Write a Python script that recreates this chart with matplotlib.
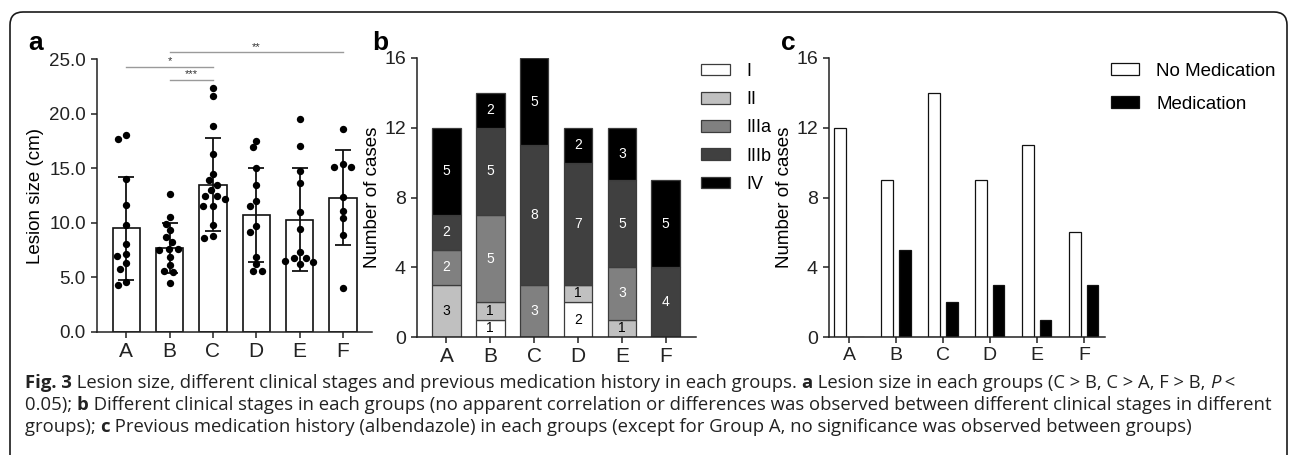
import numpy as np
import matplotlib
matplotlib.use("Agg")
import matplotlib.pyplot as plt
from matplotlib.patches import FancyBboxPatch
from matplotlib.transforms import IdentityTransform

# ---------------- data ----------------
groups = ["A", "B", "C", "D", "E", "F"]

lesion_A = [18.0, 17.7, 14.0, 11.6, 9.8, 8.1, 7.0, 7.1, 6.3, 5.8, 4.3, 4.6]
lesion_B = [12.6, 10.5, 9.9, 9.3, 8.7, 8.2, 7.6, 7.6, 7.5, 6.9, 6.1, 5.6, 5.5, 4.5]
lesion_C = [22.3, 21.6, 18.9, 16.3, 14.5, 13.9, 13.5, 13.0, 12.5, 12.5, 12.2,
            11.5, 11.5, 9.8, 8.8, 8.6]
lesion_D = [17.5, 16.9, 15.0, 13.5, 12.0, 11.5, 9.7, 9.2, 6.9, 6.2, 5.6, 5.6]
lesion_E = [19.5, 17.0, 14.7, 13.6, 11.0, 9.4, 7.3, 6.8, 6.8, 6.5, 6.4, 6.2]
lesion_F = [18.6, 15.4, 15.1, 15.1, 12.4, 11.1, 10.4, 8.9, 4.0]
lesion_mean = [9.5, 7.7, 13.5, 10.7, 10.3, 12.3]
lesion_sd = [4.7, 2.3, 4.25, 4.3, 4.7, 4.35]

sig_pairs = [("A", "C"), ("B", "C"), ("B", "F")]
sig_labels = ["*", "***", "**"]
sig_levels = [24.3, 23.1, 25.6]

stage_names = ["I", "II", "IIIa", "IIIb", "IV"]
stage_I = [0, 1, 0, 2, 0, 0]
stage_II = [3, 1, 0, 1, 1, 0]
stage_IIIa = [2, 5, 3, 0, 3, 0]
stage_IIIb = [2, 5, 8, 7, 5, 4]
stage_IV = [5, 2, 5, 2, 3, 5]

med_names = ["No Medication", "Medication"]
no_medication = [12, 9, 14, 9, 11, 6]
medication = [0, 5, 2, 3, 1, 3]

caption_lines = [
    [("Fig. 3", "bold"), (" Lesion size, different clinical stages and previous medication history in each groups. ", "normal"),
     ("a", "bold"), (" Lesion size in each groups (C > B, C > A, F > B, ", "normal"), ("P", "italic"), (" <", "normal")],
    [("0.05); ", "normal"), ("b", "bold"),
     (" Different clinical stages in each groups (no apparent correlation or differences was observed between different clinical stages in different", "normal")],
    [("groups); ", "normal"), ("c", "bold"),
     (" Previous medication history (albendazole) in each groups (except for Group A, no significance was observed between groups)", "normal")],
]

# ---------------- style ----------------
W, H, DPI = 1292, 455, 100
plt.rcParams["font.family"] = ["Liberation Sans", "DejaVu Sans"]
plt.rcParams["axes.linewidth"] = 1.1
plt.rcParams["xtick.major.width"] = 1.1
plt.rcParams["ytick.major.width"] = 1.1

fig = plt.figure(figsize=(W / DPI, H / DPI), dpi=DPI)
fig.patch.set_facecolor("white")


def px_axes(l, r, top, bottom):
    return fig.add_axes([l / W, 1 - bottom / H, (r - l) / W, (bottom - top) / H])


def style_axes(ax):
    for s in ("top", "right"):
        ax.spines[s].set_visible(False)
    ax.tick_params(direction="out", length=4.5, colors="#222222")
    for s in ("left", "bottom"):
        ax.spines[s].set_color("#222222")


# ---------------- panel a ----------------
axa = px_axes(97, 372, 59, 332)
style_axes(axa)
xa = np.arange(len(groups))
xlim_a = (-0.673, 5.67)
ylim_a = (0, 25)
axa.set_xlim(*xlim_a)
axa.set_ylim(*ylim_a)
axa.bar(xa, lesion_mean, width=0.63, color="white", edgecolor="#111111", linewidth=1.2, zorder=1)
axa.errorbar(xa, lesion_mean, yerr=lesion_sd, fmt="none", ecolor="#111111",
             elinewidth=1.3, capsize=5.5, capthick=1.3, zorder=2)

# beeswarm in pixel space (elliptical spacing like GraphPad rows)
ax_w_px = 372 - 97
ax_h_px = 332 - 59
xpx = ax_w_px / (xlim_a[1] - xlim_a[0])
ypx = ax_h_px / (ylim_a[1] - ylim_a[0])
rx, ry = 9.5, 7.0


def swarm(vals):
    order = sorted(range(len(vals)), key=lambda i: -vals[i])
    placed = []
    out = [0.0] * len(vals)
    for i in order:
        y = vals[i] * ypx
        k = 0
        chosen = None
        while chosen is None:
            cands = [0.0] if k == 0 else [-k * 0.5, k * 0.5]
            for c in cands:
                if all(((c - px) / rx) ** 2 + ((y - py) / ry) ** 2 >= 0.98 for px, py in placed):
                    chosen = c
                    break
            k += 1
        placed.append((chosen, y))
        out[i] = chosen / xpx
    return out


for gi, vals in enumerate([lesion_A, lesion_B, lesion_C, lesion_D, lesion_E, lesion_F]):
    offs = swarm(vals)
    axa.scatter(gi + np.array(offs), vals, s=28, color="black", zorder=3, linewidths=0)

for (g1, g2), lab, lev in zip(sig_pairs, sig_labels, sig_levels):
    i1, i2 = groups.index(g1), groups.index(g2)
    axa.plot([i1, i2], [lev, lev], color="#9a9a9a", lw=1.0, clip_on=False, zorder=4)
    axa.text((i1 + i2) / 2, lev + 0.05, lab, ha="center", va="bottom", fontsize=8,
             color="#333333", clip_on=False)

axa.set_xticks(xa)
axa.set_xticklabels(groups, fontsize=15)
axa.set_yticks([0, 5, 10, 15, 20, 25])
axa.set_yticklabels([f"{v:.1f}" for v in [0, 5, 10, 15, 20, 25]], fontsize=13.5)
axa.set_ylabel("Lesion size (cm)", fontsize=13.5, labelpad=4)
axa.tick_params(axis="x", pad=3)

# ---------------- panel b ----------------
axb = px_axes(417, 696, 58, 337)
style_axes(axb)
xb = np.arange(len(groups))
axb.set_xlim(-0.67, 5.69)
axb.set_ylim(0, 16)
stage_vals = [stage_I, stage_II, stage_IIIa, stage_IIIb, stage_IV]
stage_colors = ["#ffffff", "#c0c0c0", "#808080", "#404040", "#000000"]
stage_text = ["black", "black", "white", "white", "white"]
bottom = np.zeros(len(groups))
for vals, col, tc, name in zip(stage_vals, stage_colors, stage_text, stage_names):
    vals = np.array(vals, dtype=float)
    axb.bar(xb, vals, bottom=bottom, width=0.65, color=col, edgecolor="#3c3c3c",
            linewidth=0.9, label=name, zorder=2)
    for xi, v, b0 in zip(xb, vals, bottom):
        if v > 0:
            axb.text(xi, b0 + v / 2, f"{int(v)}", ha="center", va="center",
                     fontsize=10, color=tc, zorder=3)
    bottom += vals
axb.set_xticks(xb)
axb.set_xticklabels(groups, fontsize=15)
axb.set_yticks([0, 4, 8, 12, 16])
axb.set_yticklabels(["0", "4", "8", "12", "16"], fontsize=14)
axb.set_ylabel("Number of cases", fontsize=13.5, labelpad=2)
axb.tick_params(axis="x", pad=3)

hb, lb = axb.get_legend_handles_labels()
axb.legend(hb, lb, loc="upper left", bbox_to_anchor=(701 / W, 1 - 63 / H),
           bbox_transform=fig.transFigure, frameon=False, fontsize=13,
           handlelength=1.6, handleheight=0.6, handletextpad=0.9,
           labelspacing=0.62, borderpad=0, borderaxespad=0)

# ---------------- panel c ----------------
axc = px_axes(829, 1105, 58, 337)
style_axes(axc)
xc = np.arange(len(groups))
axc.set_xlim(-0.426, 5.45)
axc.set_ylim(0, 16)
axc.bar(xc - 0.19, no_medication, width=0.24, color="white", edgecolor="#111111",
        linewidth=0.9, label=med_names[0], zorder=2)
axc.bar(xc + 0.19, medication, width=0.24, color="black", edgecolor="#111111",
        linewidth=0.9, label=med_names[1], zorder=2)
axc.set_xticks(xc)
axc.set_xticklabels(groups, fontsize=14)
axc.set_yticks([0, 4, 8, 12, 16])
axc.set_yticklabels(["0", "4", "8", "12", "16"], fontsize=14)
axc.set_ylabel("Number of cases", fontsize=13.5, labelpad=2)
axc.tick_params(axis="x", pad=3)
hc, lc = axc.get_legend_handles_labels()
axc.legend(hc, lc, loc="upper left", bbox_to_anchor=(1111 / W, 1 - 63 / H),
           bbox_transform=fig.transFigure, frameon=False, fontsize=13.5,
           handlelength=1.5, handleheight=0.6, handletextpad=0.9,
           labelspacing=0.85, borderpad=0, borderaxespad=0)

# ---------------- panel letters ----------------
for lab, xp, yp in [("a", 28, 50), ("b", 372, 50), ("c", 781, 50)]:
    fig.text(xp / W, 1 - yp / H, lab, fontsize=19, weight="bold", ha="left", va="baseline")

# ---------------- frame ----------------
frame = FancyBboxPatch((10, -60), 1277, H - 12 + 60,
                       boxstyle="round,pad=0,rounding_size=13",
                       transform=IdentityTransform(), facecolor="none",
                       edgecolor="#1a1a1a", linewidth=1.2)
fig.add_artist(frame)

# ---------------- caption ----------------
renderer = fig.canvas.get_renderer()
cap_font = ["Open Sans", "DejaVu Sans"]


def piece_width(txt, weight, fs):
    kw = dict(fontsize=fs, family=cap_font)
    if weight == "bold":
        kw["weight"] = "bold"
    if weight == "italic":
        kw["style"] = "italic"
    t1 = fig.text(0, 0, "|" + txt + "|", **kw)
    t2 = fig.text(0, 0, "||", **kw)
    w = t1.get_window_extent(renderer).width - t2.get_window_extent(renderer).width
    t1.remove()
    t2.remove()
    return w


base_fs = 10.0
w_line2 = sum(piece_width(t, s, base_fs) for t, s in caption_lines[1])
cap_fs = base_fs * (1244.0 / w_line2)

baselines = [388, 410, 432]
for line, bl in zip(caption_lines, baselines):
    x = 25.0
    for txt, st in line:
        kw = dict(fontsize=cap_fs, family=cap_font, color="#222222")
        if st == "bold":
            kw["weight"] = "bold"
        if st == "italic":
            kw["style"] = "italic"
        fig.text(x / W, 1 - bl / H, txt, ha="left", va="baseline", **kw)
        x += piece_width(txt, st, cap_fs)

fig.savefig("out.png", dpi=DPI)
